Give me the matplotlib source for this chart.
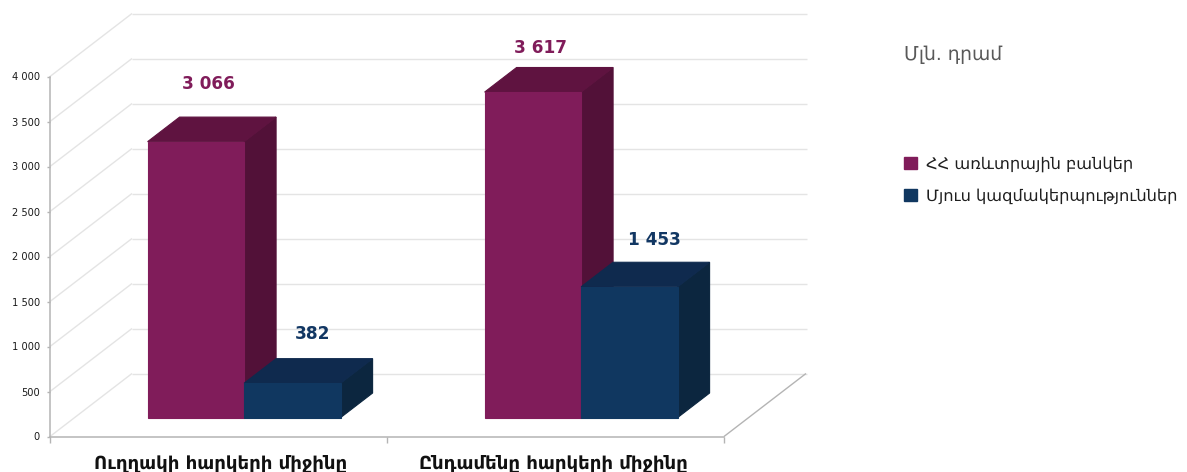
import matplotlib.pyplot as plt
from matplotlib.patches import Patch

# Data
categories = ["Ուղղակի հարկերի միջինը", "Ընդամենը հարկերի միջինը"]
banks = [3066, 3617]
others = [382, 1453]
series_names = ["ՀՀ առևտրային բանկեր", "Մյուս կազմակերպություններ"]
y_ticks = [0, 500, 1000, 1500, 2000, 2500, 3000, 3500, 4000]
y_labels = ["0", "500", "1 000", "1 500", "2 000", "2 500", "3 000", "3 500", "4 000"]
bank_labels = ["3 066", "3 617"]
other_labels = ["382", "1 453"]
unit_title = "Մլն. դրամ"

# Colours
bank_colors = ("#801c5a", "#5f1340", "#521138")
other_colors = ("#103760", "#0f2a4e", "#0c263f")
bank_text = "#801c5a"
other_text = "#123763"
grid_color = "#e4e4e4"
axis_color = "#b4b4b4"

# Scale: one category is 337 px wide, 500 units are 45 px
W, H = 1187, 472
cat_px = 337.0
unit_px = 0.09
x0_px, y0_px = 50, 436.5

fig = plt.figure(figsize=(W / 100, H / 100), dpi=100)
ax = fig.add_axes([0, 0, 1, 1])
ax.set_xlim(-x0_px / cat_px, (W - x0_px) / cat_px)
ax.set_ylim(-(H - y0_px) / unit_px, y0_px / unit_px)
ax.patch.set_alpha(0)

# Depth of the fake 3D box, in data units
depth_x = 82 / cat_px
depth_y = 63 / unit_px


def proj(x, v, d):
    return x + d * depth_x, v + d * depth_y


def line3d(p1, p2, **kw):
    a = proj(*p1)
    b = proj(*p2)
    ax.plot([a[0], b[0]], [a[1], b[1]], solid_capstyle="butt", **kw)


def bar3d(x, width, value, colors, d0=0.3, dd=0.39):
    d1 = d0 + dd
    front = [proj(x, 0, d0), proj(x + width, 0, d0), proj(x + width, value, d0), proj(x, value, d0)]
    top = [proj(x, value, d0), proj(x + width, value, d0), proj(x + width, value, d1), proj(x, value, d1)]
    side = [proj(x + width, 0, d0), proj(x + width, 0, d1), proj(x + width, value, d1), proj(x + width, value, d0)]
    for pts, c in [(side, colors[2]), (top, colors[1]), (front, colors[0])]:
        ax.fill(*zip(*pts), facecolor=c, edgecolor=c, lw=0.8, zorder=3)


# Walls and floor
for v in y_ticks:
    line3d((0, v, 0), (0, v, 1), color=grid_color, lw=1.0, zorder=1)
    line3d((0, v, 1), (2.003, v, 1), color=grid_color, lw=1.0, zorder=1)
line3d((2, 0, 0), (2, 0, 1), color=axis_color, lw=1.0, zorder=1)

# Bars
bar_w = 96.5 / cat_px
gap = (1 - 2 * bar_w) / 2 + 0.003
for i in range(len(categories)):
    bar3d(i + gap, bar_w, banks[i], bank_colors)
    bar3d(i + gap + bar_w, bar_w, others[i], other_colors)

# Value labels, nudged by hand in pixels
bank_nudge = [(13, 58), (8, 44)]
other_nudge = [(20, 49), (25, 47)]
for i in range(len(categories)):
    x, y = proj(i + gap + bar_w / 2, banks[i], 0.3)
    ax.annotate(bank_labels[i], (x, y), xytext=bank_nudge[i], textcoords="offset pixels",
                ha="center", va="center", fontsize=12.2, fontweight="bold", color=bank_text, zorder=5)
    x, y = proj(i + gap + bar_w * 1.5, others[i], 0.3)
    ax.annotate(other_labels[i], (x, y), xytext=other_nudge[i], textcoords="offset pixels",
                ha="center", va="center", fontsize=12.2, fontweight="bold", color=other_text, zorder=5)

# Axes
for s in ["top", "right"]:
    ax.spines[s].set_visible(False)
ax.spines["left"].set_position(("data", 0))
ax.spines["bottom"].set_position(("data", 0))
ax.spines["left"].set_bounds(0, 4000)
ax.spines["bottom"].set_bounds(0, 2)
ax.spines["left"].set_color(axis_color)
ax.spines["bottom"].set_color(axis_color)
ax.spines["left"].set_linewidth(1.1)
ax.spines["bottom"].set_linewidth(1.1)
ax.spines["left"].set_zorder(2)
ax.spines["bottom"].set_zorder(2)

ax.set_yticks(y_ticks, y_labels, fontsize=7.1, color="#1a1a1a")
ax.tick_params(axis="y", length=2.2, width=1, color=axis_color, pad=5)
ax.set_xticks([0, 1, 2], ["", "", ""])
ax.tick_params(axis="x", which="major", length=4.3, width=1, color=axis_color)
ax.set_xticks([0.505, 1.495], categories, minor=True, fontsize=13.1, fontweight="bold", color="#111111")
ax.tick_params(axis="x", which="minor", length=0, pad=13)

# Legend and unit title
fig.text(904 / W, 1 - 54 / H, unit_title, fontsize=13.5, color="#595959", va="center")
handles = [Patch(color=bank_colors[0]), Patch(color=other_colors[0])]
fig.legend(handles, series_names, loc="upper left", bbox_to_anchor=(904 / W, 1 - 156 / H), frameon=False,
           fontsize=11.7, handlelength=0.8, handleheight=0.8, handletextpad=0.55,
           labelspacing=1.02, borderpad=0, borderaxespad=0, labelcolor="#1f1f1f")

plt.savefig("out.png", dpi=100)
